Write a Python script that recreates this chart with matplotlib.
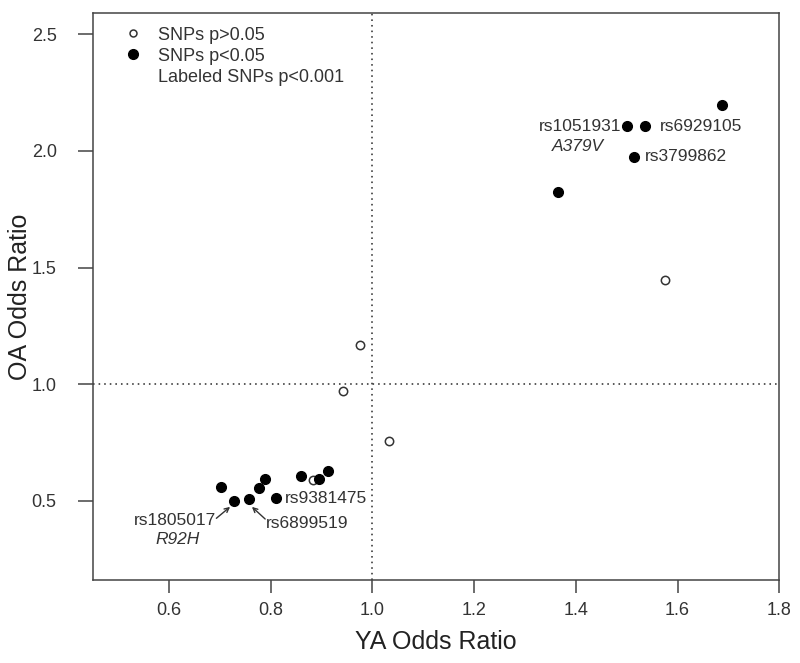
import matplotlib
matplotlib.use("Agg")
import matplotlib.pyplot as plt

plt.rcParams['font.family'] = ['Liberation Sans', 'DejaVu Sans']

# SNPs with p > 0.05 (open circles)
ns_ya = [1.576, 0.975, 0.942, 1.032, 0.883]
ns_oa = [1.445, 1.168, 0.970, 0.755, 0.589]

# SNPs with p < 0.05 (filled circles)
sig_ya = [1.687, 1.500, 1.537, 1.515, 1.364,
          0.702, 0.727, 0.757, 0.776, 0.788, 0.811, 0.859, 0.895, 0.913]
sig_oa = [2.198, 2.105, 2.105, 1.975, 1.825,
          0.560, 0.500, 0.506, 0.555, 0.595, 0.514, 0.608, 0.594, 0.628]

xticks = [0.6, 0.8, 1.0, 1.2, 1.4, 1.6, 1.8]
yticks = [0.5, 1.0, 1.5, 2.0, 2.5]

txt = '#333333'
edge = '#444444'

fig = plt.figure(figsize=(8, 6.63), dpi=100)
ax = fig.add_axes([0.116, 0.125, 0.858, 0.855])

ax.axvline(1.0, color='#333333', ls=(0, (1, 2.5)), lw=1.15, zorder=1)
ax.axhline(1.0, color='#333333', ls=(0, (1, 2.5)), lw=1.15, zorder=1)

ax.plot(ns_ya, ns_oa, 'o', ms=6, mfc='white', mec='#333333', mew=1.1, zorder=3)
ax.plot(sig_ya, sig_oa, 'o', ms=7, mfc='black', mec='black', zorder=3)

fs = 12.5
ax.text(1.490, 2.105, 'rs1051931', ha='right', va='center', fontsize=fs, color=txt)
ax.text(1.405, 2.017, 'A379V', ha='center', va='center', fontsize=fs, color=txt, style='italic')
ax.text(1.565, 2.105, 'rs6929105', ha='left', va='center', fontsize=fs, color=txt)
ax.text(1.535, 1.975, 'rs3799862', ha='left', va='center', fontsize=fs, color=txt)
ax.text(0.828, 0.510, 'rs9381475', ha='left', va='center', fontsize=fs, color=txt)
ax.text(0.692, 0.414, 'rs1805017', ha='right', va='center', fontsize=fs, color=txt)
ax.text(0.616, 0.336, 'R92H', ha='center', va='center', fontsize=fs, color=txt, style='italic')
ax.text(0.790, 0.402, 'rs6899519', ha='left', va='center', fontsize=fs, color=txt)

arrow = dict(arrowstyle='->', color='#333333', lw=1.0, shrinkA=0, shrinkB=0,
             mutation_scale=8)
ax.annotate('', xy=(0.720, 0.474), xytext=(0.693, 0.425), arrowprops=arrow)
ax.annotate('', xy=(0.763, 0.474), xytext=(0.789, 0.422), arrowprops=arrow)

# legend
ax.plot([0.058], [0.966], 'o', ms=5, mfc='white', mec='#333333', mew=1.1,
        transform=ax.transAxes, clip_on=False)
ax.plot([0.058], [0.929], 'o', ms=7, mfc='black', mec='black',
        transform=ax.transAxes, clip_on=False)
ax.text(0.095, 0.961, 'SNPs p>0.05', transform=ax.transAxes, va='center', fontsize=13, color=txt)
ax.text(0.095, 0.923, 'SNPs p<0.05', transform=ax.transAxes, va='center', fontsize=13, color=txt)
ax.text(0.095, 0.887, 'Labeled SNPs p<0.001', transform=ax.transAxes, va='center', fontsize=13, color=txt)

ax.set_xlim(0.45, 1.8)
ax.set_ylim(0.16, 2.59)
ax.set_xticks(xticks)
ax.set_yticks(yticks)
ax.set_xticklabels(['%.1f' % v for v in xticks])
ax.set_yticklabels(['%.1f' % v for v in yticks])
ax.tick_params(axis='x', length=9.5, width=1.1, color=edge, labelsize=13, labelcolor=txt, pad=6)
ax.tick_params(axis='y', length=11, width=1.1, color=edge, labelsize=13, labelcolor=txt, pad=15)
for s in ax.spines.values():
    s.set_color(edge)
    s.set_linewidth(1.1)

ax.set_xlabel('YA Odds Ratio', fontsize=18, color='#222222')
ax.set_ylabel('OA Odds Ratio', fontsize=18, color='#222222')
ax.xaxis.set_label_coords(0.5, -0.088)
ax.yaxis.set_label_coords(-0.088, 0.5)

fig.savefig('out.png', dpi=100)
